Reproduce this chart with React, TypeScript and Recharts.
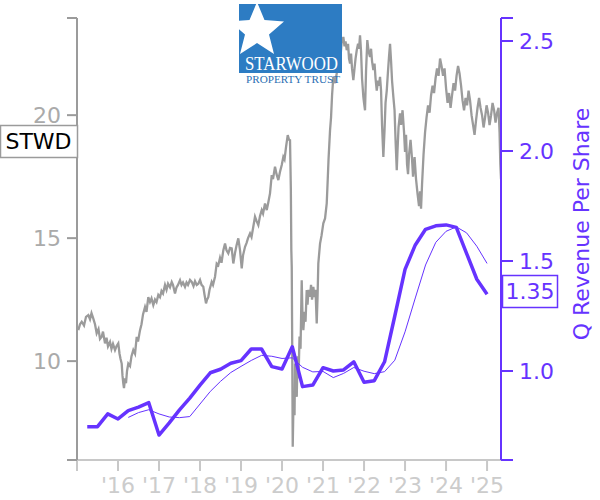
import { LineChart, Line, XAxis, YAxis } from "recharts";

const GRAY = "#9b9b9b";
const PURPLE = "#6633ff";
const FONT = "DejaVu Sans";

// x axis: calendar years
const yearTicks = [2015, 2016, 2017, 2018, 2019, 2020, 2021, 2022, 2023, 2024, 2025];
const X_DOMAIN = [2015, 2025.34];

// STWD share price, years since start of 2015
const priceT = [
  0.032, 0.073, 0.115, 0.171, 0.22, 0.276, 0.317, 0.354, 0.398, 0.439, 0.48, 0.524, 0.561, 0.602, 0.634,
  0.683, 0.72, 0.756, 0.805, 0.841, 0.878, 0.927, 0.963, 1.007, 1.037, 1.061, 1.09, 1.11, 1.129, 1.146,
  1.171, 1.195, 1.22, 1.251, 1.293, 1.329, 1.373, 1.415, 1.456, 1.488, 1.537, 1.573, 1.61, 1.659, 1.695,
  1.739, 1.78, 1.817, 1.861, 1.902, 1.939, 1.983, 2.024, 2.061, 2.098, 2.146, 2.183, 2.22, 2.268, 2.31,
  2.341, 2.39, 2.427, 2.463, 2.512, 2.549, 2.585, 2.634, 2.671, 2.707, 2.756, 2.798, 2.841, 2.878, 2.92,
  2.959, 3.0, 3.037, 3.08, 3.11, 3.146, 3.171, 3.202, 3.232, 3.285, 3.317, 3.366, 3.407, 3.446, 3.488,
  3.524, 3.568, 3.61, 3.646, 3.69, 3.732, 3.773, 3.812, 3.854, 3.89, 3.934, 3.976, 4.017, 4.049, 4.098,
  4.134, 4.171, 4.22, 4.256, 4.293, 4.341, 4.378, 4.422, 4.463, 4.505, 4.537, 4.585, 4.627, 4.659, 4.707,
  4.749, 4.78, 4.829, 4.866, 4.91, 4.951, 4.993, 5.032, 5.061, 5.098, 5.139, 5.171, 5.195, 5.215, 5.227,
  5.237, 5.249, 5.261, 5.276, 5.293, 5.305, 5.317, 5.337, 5.359, 5.378, 5.402, 5.427, 5.451, 5.48, 5.5,
  5.52, 5.549, 5.573, 5.602, 5.622, 5.646, 5.683, 5.707, 5.732, 5.763, 5.793, 5.817, 5.846, 5.866, 5.885,
  5.902, 5.927, 5.963, 6.007, 6.049, 6.09, 6.11, 6.134, 6.171, 6.195, 6.22, 6.251, 6.293, 6.334, 6.366,
  6.398, 6.427, 6.451, 6.495, 6.524, 6.549, 6.578, 6.61, 6.634, 6.659, 6.683, 6.707, 6.739, 6.768, 6.793,
  6.822, 6.854, 6.878, 6.902, 6.927, 6.951, 6.983, 7.0, 7.024, 7.049, 7.08, 7.11, 7.146, 7.171, 7.195,
  7.227, 7.256, 7.28, 7.31, 7.341, 7.366, 7.39, 7.415, 7.439, 7.471, 7.5, 7.524, 7.554, 7.585, 7.61,
  7.634, 7.659, 7.683, 7.715, 7.744, 7.768, 7.798, 7.817, 7.841, 7.878, 7.902, 7.939, 7.976, 8.0, 8.024,
  8.049, 8.073, 8.098, 8.134, 8.171, 8.195, 8.232, 8.268, 8.305, 8.341, 8.366, 8.39, 8.415, 8.451, 8.488,
  8.524, 8.561, 8.598, 8.634, 8.671, 8.707, 8.744, 8.78, 8.817, 8.854, 8.89, 8.927, 8.963, 9.0, 9.037,
  9.073, 9.11, 9.146, 9.183, 9.22, 9.256, 9.293, 9.329, 9.366, 9.402, 9.439, 9.476, 9.512, 9.549, 9.585,
  9.622, 9.659, 9.695, 9.732, 9.768, 9.805, 9.841, 9.878, 9.915, 9.951, 9.988, 10.024, 10.061, 10.098, 10.134,
  10.171, 10.207, 10.244, 10.28, 10.305, 10.324, 10.341,
];
const priceV = [
  11.26, 11.5, 11.6, 11.45, 11.8, 11.87, 11.7, 11.95, 11.73, 11.5, 11.13, 11.3, 10.9, 10.99, 11.2,
  10.72, 10.95, 10.6, 10.78, 10.5, 10.7, 10.45, 10.6, 10.72, 10.3, 10.1, 9.9, 9.4, 9.1, 8.9,
  9.3, 9.1, 9.6, 9.9, 9.8, 10.2, 10.45, 10.3, 10.99, 10.8, 11.26, 11.5, 11.9, 12.2, 12.0,
  12.6, 12.4, 12.55, 12.28, 12.5, 12.4, 12.69, 12.6, 12.85, 12.75, 13.1, 12.9, 13.15, 13.0, 13.22,
  13.1, 12.75, 13.0, 13.1, 13.29, 13.1, 13.2, 13.02, 13.2, 13.1, 13.3, 13.22, 13.05, 13.25, 13.1,
  13.15, 13.3, 13.1, 13.02, 12.7, 12.35, 12.5, 12.6, 12.9, 13.22, 13.1, 13.43, 13.97, 13.9, 14.2,
  14.0, 14.5, 14.78, 14.5, 14.38, 14.6, 14.58, 13.97, 14.4, 14.7, 14.99, 14.5, 13.77, 14.3, 14.65,
  14.8, 15.0, 15.19, 15.05, 15.4, 15.87, 15.7, 15.53, 15.9, 16.14, 16.0, 16.41, 16.14, 16.4, 16.82,
  17.56, 17.4, 17.9, 17.6, 17.36, 17.7, 17.97, 18.3, 18.2, 18.71, 19.19, 19.0, 18.98, 17.0, 14.5,
  13.83, 10.5, 6.52, 8.0, 8.69, 7.8, 9.9, 8.9, 8.55, 10.2, 9.3, 11.0, 10.5, 13.29, 11.8,
  11.26, 12.0, 11.6, 12.89, 12.3, 12.9, 12.62, 13.1, 12.5, 13.02, 12.6, 12.9, 11.53, 12.6, 13.97,
  14.3, 14.78, 15.1, 15.6, 15.8, 16.41, 17.2, 18.2, 19.39, 19.9, 20.8, 21.56, 21.3, 21.7, 22.2,
  22.78, 22.4, 22.9, 23.18, 22.8, 23.0, 22.64, 22.9, 22.3, 22.1, 22.5, 21.9, 21.42, 21.9, 22.3,
  22.64, 22.9, 22.7, 23.25, 22.6, 21.5, 20.74, 20.5, 20.2, 21.8, 23.05, 22.6, 22.37, 22.7, 22.2,
  21.83, 22.1, 21.5, 21.0, 21.4, 21.2, 21.56, 21.0, 19.6, 18.3, 19.4, 20.5, 21.0, 21.8, 22.4,
  22.9, 22.2, 21.4, 20.74, 20.2, 19.0, 17.76, 18.6, 19.5, 20.07, 19.6, 20.2, 19.3, 18.5, 19.2,
  18.0, 17.6, 18.4, 19.0, 18.2, 17.5, 18.3, 17.4, 16.8, 16.3, 16.9, 16.2, 17.2, 18.4, 19.3,
  19.9, 20.4, 20.1, 20.8, 21.2, 20.9, 21.5, 21.9, 21.6, 22.3, 22.0, 21.6, 21.9, 21.1, 20.5,
  20.9, 20.3, 20.8, 21.3, 21.0, 21.6, 22.0, 21.7, 21.2, 20.6, 20.2, 20.7, 20.4, 21.0, 20.6,
  20.0, 19.6, 19.2, 19.8, 20.3, 20.7, 20.3, 20.0, 19.5, 19.9, 20.4, 20.1, 19.6, 20.0, 20.5,
  20.2, 19.7, 20.1, 20.3, 19.3, 18.0, 17.4,
];

// quarterly revenue per share (quarter ends)
const revQuarter = [
  2015.25, 2015.5, 2015.75, 2016.0, 2016.25, 2016.5, 2016.75, 2017.0, 2017.25, 2017.5,
  2017.75, 2018.0, 2018.25, 2018.5, 2018.75, 2019.0, 2019.25, 2019.5, 2019.75, 2020.0,
  2020.25, 2020.5, 2020.75, 2021.0, 2021.25, 2021.5, 2021.75, 2022.0, 2022.25, 2022.5,
  2022.75, 2023.0, 2023.25, 2023.5, 2023.75, 2024.0, 2024.25, 2024.5, 2024.75, 2025.0,
];
const revPerShare = [
  0.747, 0.747, 0.805, 0.782, 0.82, 0.836, 0.856, 0.709, 0.764, 0.823,
  0.877, 0.936, 0.992, 1.008, 1.035, 1.047, 1.1, 1.1, 1.02, 1.009,
  1.11, 0.929, 0.936, 1.015, 1.0, 1.005, 1.042, 0.949, 0.956, 1.042,
  1.25, 1.462, 1.573, 1.644, 1.66, 1.664, 1.653, 1.535, 1.417, 1.349,
];
// trailing four-quarter average (thin line), from 2016.25
const revAvgStart = 4;
const revAvg = [
  0.789, 0.811, 0.824, 0.805, 0.791, 0.788, 0.793, 0.85, 0.907, 0.953,
  0.993, 1.021, 1.048, 1.071, 1.067, 1.057, 1.06, 1.017, 0.996, 0.998,
  0.97, 0.989, 1.016, 0.999, 0.988, 0.997, 1.049, 1.178, 1.332, 1.482,
  1.585, 1.635, 1.655, 1.628, 1.567, 1.489,
];

const PRICE_DOMAIN = [5.98, 23.95];
const priceTicks = [5.98, 10, 15, 20, 23.95];
const REV_DOMAIN = [0.5955, 2.6045];
const revTicks = [0.5955, 1.0, 1.5, 2.0, 2.5, 2.6045];

const priceData = priceT.map((t, i) => ({ t: 2015 + t, price: priceV[i] }));
const revData = revQuarter.map((t, i) => ({ t, rev: revPerShare[i] }));
const avgData = revAvg.map((v, i) => ({ t: revQuarter[i + revAvgStart], avg: v }));

const Logo = () => (
  <g>
    <defs>
      <clipPath id="logoClip">
        <rect x={239} y={4} width={103} height={69} />
      </clipPath>
    </defs>
    <rect x={239} y={4} width={103} height={69} fill="#2d7cc3" />
    <polygon
      clipPath="url(#logoClip)"
      fill="#ffffff"
      points="257,2 264.5,20 284,21.5 269,34.5 274,54 257,43 240,54 245,34.5 230,21.5 249.5,20"
    />
    <text
      x={245}
      y={70}
      fontFamily="Liberation Serif"
      fontSize={19}
      fill="#ffffff"
      textLength={93}
      lengthAdjust="spacingAndGlyphs"
    >
      STARWOOD
    </text>
    <text
      x={246}
      y={83}
      fontFamily="Liberation Serif"
      fontSize={11}
      fill="#2d6fb3"
      textLength={94}
      lengthAdjust="spacingAndGlyphs"
    >
      PROPERTY TRUST
    </text>
  </g>
);

export default function App() {
  return (
    <div style={{ position: "absolute", left: 0, top: 0, width: 600, height: 500, background: "#fff" }}>
      <LineChart
        width={600}
        height={500}
        margin={{ top: 18, right: 0, bottom: 0, left: 0 }}
      >
        <XAxis
          type="number"
          dataKey="t"
          domain={X_DOMAIN}
          ticks={yearTicks}
          allowDataOverflow
          height={40}
          tickSize={11}
          tickMargin={6}
          tickFormatter={(v) => (v === 2015 ? "" : `'${String(v).slice(2)}`)}
          tick={{ fill: "#cccccc", fontSize: 22, fontFamily: FONT }}
          axisLine={{ stroke: "#c8c8c8", strokeWidth: 2 }}
          tickLine={{ stroke: "#c8c8c8", strokeWidth: 2 }}
        />
        <YAxis
          yAxisId="price"
          orientation="left"
          width={77}
          domain={PRICE_DOMAIN}
          ticks={priceTicks}
          allowDataOverflow
          tickSize={10}
          tickMargin={6}
          tickFormatter={(v) => (v === 10 || v === 15 || v === 20 ? String(v) : "")}
          tick={{ fill: "#aaaaaa", fontSize: 22, fontFamily: FONT }}
          axisLine={{ stroke: GRAY, strokeWidth: 2 }}
          tickLine={{ stroke: GRAY, strokeWidth: 2 }}
        />
        <YAxis
          yAxisId="rev"
          orientation="right"
          width={99}
          domain={REV_DOMAIN}
          ticks={revTicks}
          allowDataOverflow
          tickSize={12}
          tickMargin={6}
          tickFormatter={(v) => (v === 1 || v === 1.5 || v === 2 || v === 2.5 ? v.toFixed(1) : "")}
          tick={{ fill: PURPLE, fontSize: 22, fontFamily: FONT }}
          axisLine={{ stroke: PURPLE, strokeWidth: 2 }}
          tickLine={{ stroke: PURPLE, strokeWidth: 2 }}
        />
        <Line
          yAxisId="price"
          data={priceData}
          dataKey="price"
          type="linear"
          stroke={GRAY}
          strokeWidth={2.3}
          dot={false}
          isAnimationActive={false}
        />
        <Line
          yAxisId="rev"
          data={avgData}
          dataKey="avg"
          type="linear"
          stroke={PURPLE}
          strokeWidth={1}
          dot={false}
          isAnimationActive={false}
        />
        <Line
          yAxisId="rev"
          data={revData}
          dataKey="rev"
          type="linear"
          stroke={PURPLE}
          strokeWidth={3.5}
          strokeLinejoin="round"
          dot={false}
          isAnimationActive={false}
        />
      </LineChart>
      <svg
        width={600}
        height={500}
        style={{ position: "absolute", left: 0, top: 0, pointerEvents: "none" }}
      >
        <Logo />
        <rect x={0.5} y={125.5} width={77} height={32} fill="#fff" stroke={GRAY} strokeWidth={1.5} />
        <text x={38.5} y={149} textAnchor="middle" fontFamily={FONT} fontSize={22} fill="#000">
          STWD
        </text>
        <rect x={502.5} y={275.5} width={55} height={32} fill="#fff" stroke={PURPLE} strokeWidth={1.5} />
        <text x={530} y={299} textAnchor="middle" fontFamily={FONT} fontSize={22} fill={PURPLE}>
          1.35
        </text>
        <text
          x={0}
          y={0}
          transform="translate(589,224) rotate(-90)"
          textAnchor="middle"
          fontFamily={FONT}
          fontSize={22}
          fill={PURPLE}
        >
          Q Revenue Per Share
        </text>
      </svg>
    </div>
  );
}
